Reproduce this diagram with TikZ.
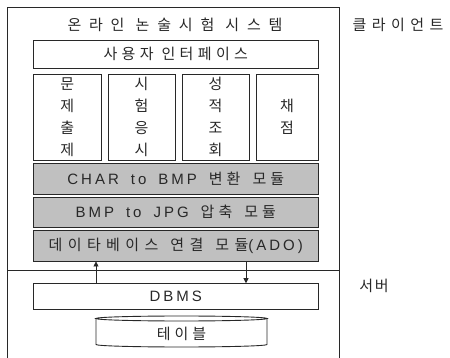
\documentclass[tikz,border=0pt]{standalone}
\usepackage{fontspec}
\setmainfont{Noto Sans CJK KR}
\newfontfamily\latf{Liberation Sans}
\usetikzlibrary{arrows.meta}
\definecolor{boxgray}{RGB}{192,192,192}
\definecolor{linec}{RGB}{40,40,40}
\newcommand{\lsp}[2]{{\addfontfeatures{LetterSpace=#1}#2}}
\newcommand{\lat}[2]{{\latf\addfontfeatures{LetterSpace=#1}#2}}
\newcommand{\gap}{\hspace{12pt}}
\tikzset{
  box/.style={draw=linec, line width=0.9pt, inner sep=0pt, font=\fontsize{15}{22}\selectfont, text=linec},
  graybox/.style={box, fill=boxgray},
  lbl/.style={inner sep=0pt, font=\fontsize{15}{22}\selectfont, text=linec},
  arr/.style={draw=linec, line width=0.8pt, -{Triangle[length=5pt,width=5pt]}}
}
\begin{document}
\begin{tikzpicture}[x=1pt,y=-1pt]
\useasboundingbox (0,0) rectangle (450,358);
% outer frame (open at the bottom edge)
\draw[linec, line width=1pt] (7.5,358) -- (7.5,8) -- (339,8) -- (339,358);
\draw[linec, line width=1pt] (7.5,270.3) -- (339,270.3);
\node[lbl] (title) at (175,25) {\lsp{52}{온라인 논술시험 시스템}};
\node[box, minimum width=284.5pt, minimum height=28pt] (ui) at (175.75,54) {\lsp{29}{사용자}\hspace{8pt}\lsp{29}{인터페이스}};
\node[box, minimum width=67.5pt, minimum height=86pt, align=center] (c1) at (67.25,117) {문\\제\\출\\제};
\node[box, minimum width=67pt, minimum height=86pt, align=center] (c2) at (141.5,117) {시\\험\\응\\시};
\node[box, minimum width=67pt, minimum height=86pt, align=center] (c3) at (215.5,117) {성\\적\\조\\회};
\node[box, minimum width=62pt, minimum height=86pt, align=center] (c4) at (287,117) {채\\점};
\node[graybox, minimum width=284.5pt, minimum height=30.7pt] (g1) at (175.75,178.65) {\lat{20}{CHAR}\gap\lat{20}{to}\gap\lat{20}{BMP}\gap\lsp{27}{변환}\gap\lsp{27}{모듈}};
\node[graybox, minimum width=284.5pt, minimum height=29.7pt] (g2) at (175.75,212.15) {\lat{20}{BMP}\gap\lat{20}{to}\gap\lat{20}{JPG}\gap\lsp{27}{압축}\gap\lsp{27}{모듈}};
\node[graybox, minimum width=284.5pt, minimum height=30.3pt] (g3) at (175.75,245.85) {\lsp{36}{데이타베이스}\gap\lsp{36}{연결}\gap\lsp{36}{모듈}\lat{20}{(ADO)}};
\node[box, minimum width=284.5pt, minimum height=25.3pt] (dbms) at (175.75,296.35) {\lat{20}{DBMS}};
% cylinder
\draw[linec, line width=0.9pt, fill=white] (96,318.5) -- (96,344.5) arc[start angle=180, end angle=360, x radius=85.5pt, y radius=2.5pt] -- (267,318.5);
\draw[linec, line width=0.9pt] (181.5,318.5) ellipse[x radius=85.5pt, y radius=2.5pt];
\node[lbl] (tbl) at (181.5,334) {\lsp{27}{테이블}};
% arrows
\coordinate (la) at (96,0);
\coordinate (ra) at (246,0);
\draw[arr] (dbms.north -| la) -- (g3.south -| la);
\draw[arr] (g3.south -| ra) -- (dbms.north -| ra);
\node[lbl] (client) at (398,25) {\lsp{36}{클라이언트}};
\node[lbl] (server) at (374,286) {\lsp{10}{서버}};
\end{tikzpicture}
\end{document}
